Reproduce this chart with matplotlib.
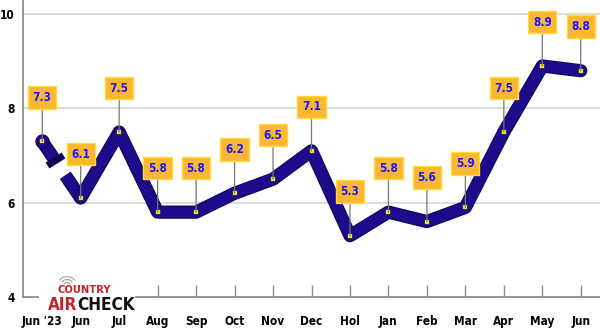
import matplotlib
matplotlib.use('Agg')
import matplotlib.pyplot as plt
import matplotlib.patheffects as pe
from matplotlib.patches import Arc, Rectangle
from matplotlib.markers import MarkerStyle
from matplotlib.transforms import Affine2D
import numpy as np

# chart data
months = ["Jun '23", 'Jun', 'Jul', 'Aug', 'Sep', 'Oct', 'Nov', 'Dec',
          'Hol', 'Jan', 'Feb', 'Mar', 'Apr', 'May', 'Jun']
ratings = [7.3, 6.1, 7.5, 5.8, 5.8, 6.2, 6.5, 7.1, 5.3, 5.8, 5.6, 5.9, 7.5, 8.9, 8.8]
y_ticks = [4, 6, 8, 10]

navy = '#1c0c8c'
dark = '#0b0455'
label_font = 'DejaVu Sans'

fig = plt.figure(figsize=(6, 3.31), dpi=100)
ax = fig.add_axes([23 / 600, 34 / 331, 1 - 23 / 600, 1 - 34 / 331])

x = np.arange(len(months))
y = np.array(ratings)

ax.set_xlim(-0.5, 14.5)
ax.set_ylim(4, 10.3)

# grid lines
for g in y_ticks[1:]:
    ax.axhline(g, color='#d9d9d9', lw=1.3, zorder=1)

line_fx = [pe.Stroke(linewidth=9.5, foreground=dark), pe.Normal()]

# first segment is broken (gap with a flat end bar)
t1, t2 = 0.33, 0.6
xa = x[0] + t1 * (x[1] - x[0])
ya = y[0] + t1 * (y[1] - y[0])
xb = x[0] + t2 * (x[1] - x[0])
yb = y[0] + t2 * (y[1] - y[0])
ax.plot([x[0], xa], [y[0], ya], color=navy, lw=8, solid_capstyle='butt',
        path_effects=line_fx, zorder=3)
ax.plot([xb, x[1]], [yb, y[1]], color=navy, lw=8, solid_capstyle='butt',
        path_effects=line_fx, zorder=3)
bar = MarkerStyle('_', transform=Affine2D().rotate_deg(34))
ax.plot([xa], [ya], marker=bar, markersize=14, mew=5, color=dark, zorder=4)

# rest of the line
ax.plot(x[1:], y[1:], color=navy, lw=8, solid_capstyle='round',
        solid_joinstyle='round', path_effects=line_fx, zorder=3)
ax.plot(x[:1], y[:1], 'o', color=navy, ms=9.5, mec=dark, mew=0.8, zorder=3)
ax.plot(x, y, 's', color='#ffee22', ms=3.2, mec='#c8b400', mew=0.3, zorder=5)

# value labels
for xi, yi in zip(x, y):
    ax.annotate(f'{yi:.1f}', xy=(xi, yi), xytext=(0, 44), textcoords='offset pixels',
                ha='center', va='center', fontsize=8.5, fontweight='bold',
                fontstretch='condensed', color='#1a1aff', family=label_font,
                bbox=dict(boxstyle='square,pad=0.4', fc='#fbb634', ec='#ffdc3a', lw=1),
                arrowprops=dict(arrowstyle='-', color='#777777', lw=0.9,
                                shrinkA=0, shrinkB=0),
                zorder=6)

# axes styling
for s in ['top', 'right']:
    ax.spines[s].set_visible(False)
ax.spines['left'].set_color('#8c8c8c')
ax.spines['bottom'].set_color('#8c8c8c')
ax.spines['left'].set_linewidth(1.3)
ax.spines['bottom'].set_linewidth(1.3)

ax.set_xticks(x)
ax.set_xticklabels(months)
ax.set_yticks(y_ticks)
ax.tick_params(axis='x', direction='in', length=9, width=1, color='#8c8c8c', pad=13)
ax.tick_params(axis='y', length=0, pad=6)
for lbl in ax.get_xticklabels() + ax.get_yticklabels():
    lbl.set_fontweight('bold')
    lbl.set_fontsize(8.5)
    lbl.set_fontstretch('condensed')
    lbl.set_family(label_font)

# logo
fig.add_artist(Rectangle((39 / 600, 22 / 331), 96 / 600, 28 / 331,
                         transform=fig.transFigure, fc='white', ec='none', zorder=7))
arc_tr = Affine2D().scale(1 / 100) + fig.dpi_scale_trans
for r in [3.5, 6.5, 9.5]:
    fig.add_artist(Arc((67, 331 - 286), 2 * r, 2 * r, theta1=35, theta2=145,
                       transform=arc_tr, color='#aaaaaa', lw=0.9, zorder=8))
fig.text(84 / 600, 1 - 290 / 331, 'COUNTRY', color='#c0272d', fontsize=7.2,
         fontweight='bold', ha='center', va='center', zorder=9, family=label_font)
fig.text(77 / 600, 1 - 305 / 331, 'AIR', color='#c0272d', fontsize=12.3,
         fontweight='bold', ha='right', va='center', zorder=9, family=label_font,
         fontstretch='condensed')
fig.text(77 / 600, 1 - 305 / 331, 'CHECK', color='#111111', fontsize=12.3,
         fontweight='bold', ha='left', va='center', zorder=9, family=label_font,
         fontstretch='condensed')

fig.savefig('out.png', dpi=100)
